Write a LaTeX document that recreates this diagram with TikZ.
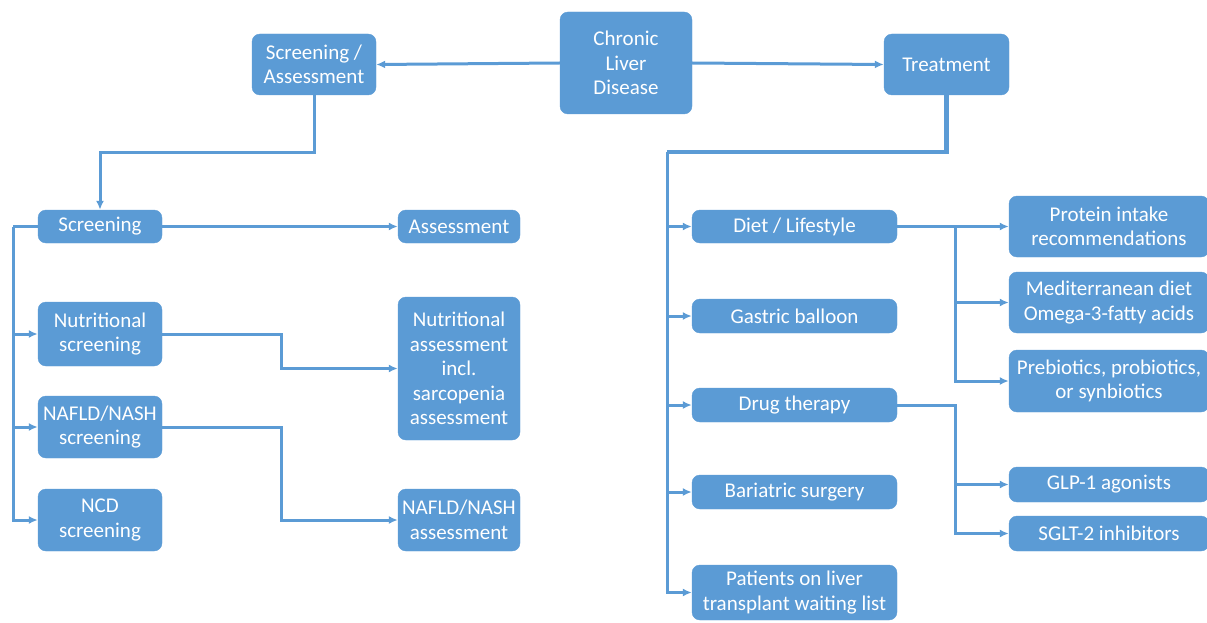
\documentclass[tikz,border=0pt]{standalone}
\usepackage{fontspec}
\setmainfont{Carlito}
\usetikzlibrary{arrows.meta}
\definecolor{boxblue}{HTML}{5B9BD5}
\tikzset{
	cbox/.style args={#1:#2}{draw=boxblue, fill=boxblue, text=white, rounded corners=8pt, align=center,
		minimum width=#1, minimum height=#2, inner sep=0pt, font=\fontsize{21}{24.5}\selectfont},
	link/.style={draw=boxblue, line width=3pt},
	arr/.style={link, -{Latex[length=9pt,width=8pt]}}
	}

\begin{document}
\begin{tikzpicture}[x=1pt, y=-1pt]

	\useasboundingbox (0,0) rectangle (1207,623);
	\clip (0,0) rectangle (1207,623);

	% top row
	\node[cbox=132pt:102pt] (cld) at (626,63) {Chronic\\Liver\\Disease};
	\node[cbox=124pt:61pt] (sa) at (314,64.5) {Screening /\\Assessment};
	\node[cbox=125pt:61pt] (tr) at (946.5,64.5) {Treatment};

	% screening / assessment side
	\node[cbox=124pt:33pt] (scr) at (100,226.5) {Screening};
	\node[cbox=122pt:33pt] (ass) at (459,226.5) {Assessment};
	\node[cbox=124pt:64pt] (nscr) at (100,334) {Nutritional\\screening};
	\node[cbox=124pt:62pt] (nafs) at (100,427) {NAFLD/NASH\\screening};
	\node[cbox=124pt:62pt] (ncd) at (100,520) {NCD\\screening};
	\node[cbox=122pt:143pt] (nass) at (459,368.5) {Nutritional\\assessment\\incl.\\sarcopenia\\assessment};
	\node[cbox=122pt:62pt] (nafa) at (459,520) {NAFLD/NASH\\assessment};

	% treatment side
	\node[cbox=205pt:33pt] (diet) at (794.5,226.5) {Diet / Lifestyle};
	\node[cbox=205pt:34pt] (gas) at (794.5,316) {Gastric balloon};
	\node[cbox=205pt:34pt] (drug) at (794.5,405) {Drug therapy};
	\node[cbox=205pt:34pt] (bar) at (794.5,492) {Bariatric surgery};
	\node[cbox=205pt:55pt] (pat) at (794.5,592.5) {Patients on liver\\transplant waiting list};
	\node[cbox=200pt:61pt] (prot) at (1109,226.5) {Protein intake\\recommendations};
	\node[cbox=200pt:61pt] (med) at (1109,302.5) {Mediterranean diet\\Omega-3-fatty acids};
	\node[cbox=200pt:62pt] (pre) at (1109,381) {Prebiotics, probiotics,\\or synbiotics};
	\node[cbox=200pt:35pt] (glp) at (1109,484.5) {GLP-1 agonists};
	\node[cbox=200pt:35pt] (sglt) at (1109,533.5) {SGLT-2 inhibitors};

	% arrows from the root
	\draw[arr] (cld.west) -- (sa.east);
	\draw[arr] (cld.east) -- (tr.west);

	% screening branch
	\draw[arr] (sa.south) -- ++(0,57) -| (scr.north);
	\draw[arr] (scr.east) -- (ass.west);
	\coordinate (lb) at (13,226.5);
	\draw[link] (scr.west) -- (lb);
	\foreach \n in {nscr,nafs,ncd}
		\draw[arr] (lb) |- (\n.west);
	\draw[arr] (nscr.east) -- ++(119,0) |- (nass.west);
	\draw[arr] (nafs.east) -- ++(119,0) |- (nafa.west);

	% treatment branch
	\coordinate (rb) at (667,152);
	\draw[link, line width=4.5pt] (tr.south) |- (rb);
	\foreach \n in {diet,gas,drug,bar,pat}
		\draw[arr] (rb) |- (\n.west);
	\draw[arr] (diet.east) -- (prot.west);
	\foreach \n in {med,pre}
		\draw[arr] (diet.east) -- ++(58,0) |- (\n.west);
	\foreach \n in {glp,sglt}
		\draw[arr] (drug.east) -- ++(58,0) |- (\n.west);

\end{tikzpicture}
\end{document}
